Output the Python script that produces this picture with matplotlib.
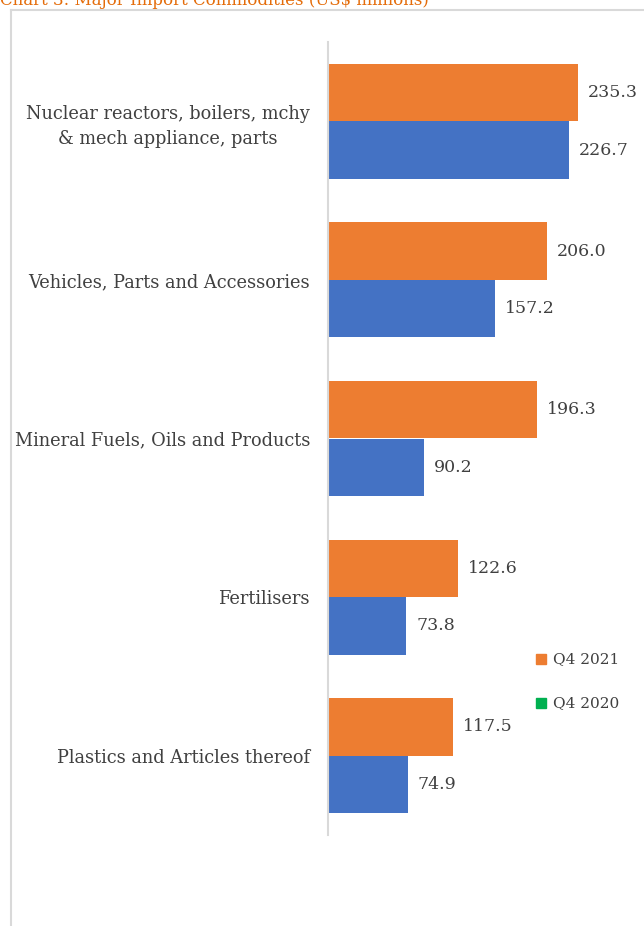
import matplotlib.pyplot as plt
from matplotlib.lines import Line2D
from matplotlib.patches import Rectangle
import numpy as np

# data
categories = ["Nuclear reactors, boilers, mchy\n& mech appliance, parts",
              "Vehicles, Parts and Accessories",
              "Mineral Fuels, Oils and Products",
              "Fertilisers",
              "Plastics and Articles thereof"]
q4_2021 = [235.3, 206.0, 196.3, 122.6, 117.5]
q4_2020 = [226.7, 157.2, 90.2, 73.8, 74.9]
series_names = ["Q4 2021", "Q4 2020"]

orange = "#ED7D31"
blue = "#4472C4"
green = "#00B050"
txt = "#404040"
grid = "#D9D9D9"

plt.rcParams['font.family'] = ['DejaVu Serif']

W, H = 644, 926
fig = plt.figure(figsize=(W / 100, H / 100), dpi=100)

# axes placed in pixel terms
x0, x1 = 328, 644
y_top, y_bot = 42, 835
ax = fig.add_axes([x0 / W, 1 - y_bot / H, (x1 - x0) / W, (y_bot - y_top) / H])

n = len(categories)
y = np.arange(n)
bh = 0.3625
ax.barh(y - bh / 2, q4_2021, height=bh, color=orange, label=series_names[0])
ax.barh(y + bh / 2, q4_2020, height=bh, color=blue, label=series_names[1])
ax.set_ylim(n - 0.5, -0.5)
ax.set_xlim(0, (x1 - x0) / 1.0625)

for i in range(n):
    ax.text(q4_2021[i] + 9.5, y[i] - bh / 2, f"{q4_2021[i]:.1f}", va="center",
            ha="left", fontsize=12.5, color=txt)
    ax.text(q4_2020[i] + 9.5, y[i] + bh / 2, f"{q4_2020[i]:.1f}", va="center",
            ha="left", fontsize=12.5, color=txt)

ax.set_yticks(y)
ax.set_yticklabels(categories, fontsize=12.8, color=txt, linespacing=1.5,
                   multialignment="center")
ax.tick_params(axis="y", length=0, pad=13)
ax.set_xticks([])
for s in ["top", "right", "bottom"]:
    ax.spines[s].set_visible(False)
ax.spines["left"].set_color(grid)
ax.spines["left"].set_linewidth(1.5)

# legend drawn by hand with square markers
fig.add_artist(Rectangle((536 / W, 1 - 664 / H), 10 / W, 10 / H,
                         transform=fig.transFigure, color=orange))
fig.text(553 / W, 1 - 659 / H, series_names[0], fontsize=11, color=txt, va="center")
fig.add_artist(Rectangle((536 / W, 1 - 708 / H), 10 / W, 10 / H,
                         transform=fig.transFigure, color=green))
fig.text(553 / W, 1 - 703 / H, series_names[1], fontsize=11, color=txt, va="center")

# chart border (left and top)
fig.add_artist(Line2D([11 / W, 11 / W], [0, 1 - 10 / H], color=grid, lw=1.5,
                      transform=fig.transFigure))
fig.add_artist(Line2D([11 / W, 1], [1 - 10 / H, 1 - 10 / H], color=grid, lw=1.5,
                      transform=fig.transFigure))

# title, cut off at top as in the source
fig.text(0.0, 1 - 5 / H, "Chart 3: Major Import Commodities (US\\$ millions)",
         fontsize=12, color="#E46C0A", va="baseline", ha="left")

fig.savefig("out.png", dpi=100)
